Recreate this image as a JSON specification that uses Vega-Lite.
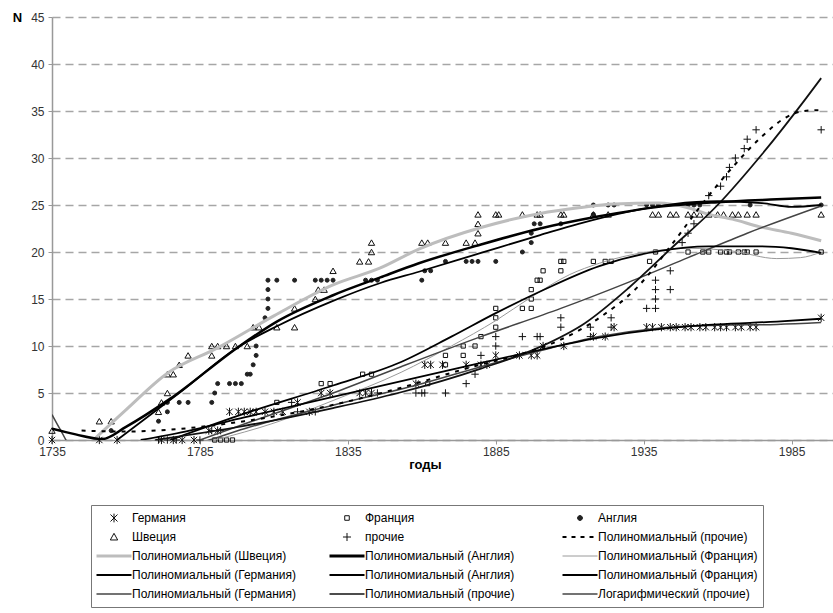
{
  "$schema": "https://vega.github.io/schema/vega-lite/v6.json",
  "width": 781,
  "height": 423,
  "autosize": {"type": "none"},
  "padding": {"left": 52, "top": 17, "right": 0, "bottom": 173},
  "background": "white",
  "config": {
    "view": {"stroke": null},
    "font": "Liberation Sans"
  },
  "datasets": {
    "pts": [
      {"series":"Германия","year":1735,"n":0},{"series":"Германия","year":1751,"n":0},{"series":"Германия","year":1757,"n":0},{"series":"Германия","year":1772,"n":0},{"series":"Германия","year":1776,"n":0},{"series":"Германия","year":1779,"n":0},{"series":"Германия","year":1783,"n":0},{"series":"Германия","year":1788,"n":1},{"series":"Германия","year":1791,"n":1},{"series":"Германия","year":1795,"n":3},{"series":"Германия","year":1798,"n":3},{"series":"Германия","year":1800,"n":3},{"series":"Германия","year":1802,"n":3},{"series":"Германия","year":1804,"n":3},{"series":"Германия","year":1807,"n":3},{"series":"Германия","year":1810,"n":3},{"series":"Германия","year":1813,"n":3},{"series":"Германия","year":1818,"n":4},{"series":"Германия","year":1822,"n":3},{"series":"Германия","year":1826,"n":5},{"series":"Германия","year":1829,"n":5},{"series":"Германия","year":1839,"n":5},{"series":"Германия","year":1841,"n":5},{"series":"Германия","year":1843,"n":5},{"series":"Германия","year":1858,"n":6},{"series":"Германия","year":1861,"n":8},{"series":"Германия","year":1863,"n":8},{"series":"Германия","year":1867,"n":8},{"series":"Германия","year":1875,"n":8},{"series":"Германия","year":1880,"n":8},{"series":"Германия","year":1882,"n":8},{"series":"Германия","year":1885,"n":9},{"series":"Германия","year":1893,"n":9},{"series":"Германия","year":1897,"n":9},{"series":"Германия","year":1899,"n":9},{"series":"Германия","year":1901,"n":10},{"series":"Германия","year":1908,"n":10},{"series":"Германия","year":1918,"n":11},{"series":"Германия","year":1922,"n":11},{"series":"Германия","year":1925,"n":12},{"series":"Германия","year":1936,"n":12},{"series":"Германия","year":1938,"n":12},{"series":"Германия","year":1941,"n":12},{"series":"Германия","year":1944,"n":12},{"series":"Германия","year":1946,"n":12},{"series":"Германия","year":1949,"n":12},{"series":"Германия","year":1951,"n":12},{"series":"Германия","year":1954,"n":12},{"series":"Германия","year":1956,"n":12},{"series":"Германия","year":1959,"n":12},{"series":"Германия","year":1961,"n":12},{"series":"Германия","year":1963,"n":12},{"series":"Германия","year":1966,"n":12},{"series":"Германия","year":1968,"n":12},{"series":"Германия","year":1971,"n":12},{"series":"Германия","year":1973,"n":12},{"series":"Германия","year":1995,"n":13},
      {"series":"Франция","year":1790,"n":0},{"series":"Франция","year":1792,"n":0},{"series":"Франция","year":1794,"n":0},{"series":"Франция","year":1796,"n":0},{"series":"Франция","year":1811,"n":4},{"series":"Франция","year":1826,"n":6},{"series":"Франция","year":1829,"n":6},{"series":"Франция","year":1840,"n":7},{"series":"Франция","year":1843,"n":7},{"series":"Франция","year":1862,"n":6},{"series":"Франция","year":1868,"n":8},{"series":"Франция","year":1868,"n":9},{"series":"Франция","year":1874,"n":9},{"series":"Франция","year":1874,"n":10},{"series":"Франция","year":1878,"n":10},{"series":"Франция","year":1880,"n":11},{"series":"Франция","year":1885,"n":12},{"series":"Франция","year":1885,"n":13},{"series":"Франция","year":1885,"n":14},{"series":"Франция","year":1894,"n":14},{"series":"Франция","year":1897,"n":14},{"series":"Франция","year":1897,"n":15},{"series":"Франция","year":1897,"n":16},{"series":"Франция","year":1899,"n":17},{"series":"Франция","year":1900,"n":17},{"series":"Франция","year":1901,"n":18},{"series":"Франция","year":1907,"n":18},{"series":"Франция","year":1907,"n":19},{"series":"Франция","year":1908,"n":19},{"series":"Франция","year":1918,"n":19},{"series":"Франция","year":1922,"n":19},{"series":"Франция","year":1924,"n":19},{"series":"Франция","year":1937,"n":19},{"series":"Франция","year":1939,"n":20},{"series":"Франция","year":1950,"n":20},{"series":"Франция","year":1955,"n":20},{"series":"Франция","year":1957,"n":20},{"series":"Франция","year":1961,"n":20},{"series":"Франция","year":1963,"n":20},{"series":"Франция","year":1964,"n":20},{"series":"Франция","year":1967,"n":20},{"series":"Франция","year":1969,"n":20},{"series":"Франция","year":1970,"n":20},{"series":"Франция","year":1973,"n":20},{"series":"Франция","year":1995,"n":20},
      {"series":"Англия","year":1755,"n":1},{"series":"Англия","year":1771,"n":2},{"series":"Англия","year":1774,"n":3},{"series":"Англия","year":1774,"n":4},{"series":"Англия","year":1778,"n":4},{"series":"Англия","year":1781,"n":4},{"series":"Англия","year":1789,"n":4},{"series":"Англия","year":1790,"n":5},{"series":"Англия","year":1791,"n":6},{"series":"Англия","year":1795,"n":6},{"series":"Англия","year":1797,"n":6},{"series":"Англия","year":1799,"n":6},{"series":"Англия","year":1801,"n":7},{"series":"Англия","year":1802,"n":7},{"series":"Англия","year":1803,"n":8},{"series":"Англия","year":1804,"n":9},{"series":"Англия","year":1804,"n":10},{"series":"Англия","year":1807,"n":13},{"series":"Англия","year":1808,"n":14},{"series":"Англия","year":1808,"n":15},{"series":"Англия","year":1808,"n":16},{"series":"Англия","year":1808,"n":17},{"series":"Англия","year":1811,"n":17},{"series":"Англия","year":1817,"n":17},{"series":"Англия","year":1824,"n":17},{"series":"Англия","year":1826,"n":17},{"series":"Англия","year":1828,"n":17},{"series":"Англия","year":1830,"n":17},{"series":"Англия","year":1841,"n":17},{"series":"Англия","year":1843,"n":17},{"series":"Англия","year":1845,"n":17},{"series":"Англия","year":1860,"n":17},{"series":"Англия","year":1861,"n":18},{"series":"Англия","year":1863,"n":18},{"series":"Англия","year":1868,"n":19},{"series":"Англия","year":1875,"n":19},{"series":"Англия","year":1877,"n":19},{"series":"Англия","year":1879,"n":19},{"series":"Англия","year":1885,"n":19},{"series":"Англия","year":1894,"n":20},{"series":"Англия","year":1897,"n":21},{"series":"Англия","year":1897,"n":22},{"series":"Англия","year":1898,"n":23},{"series":"Англия","year":1900,"n":23},{"series":"Англия","year":1907,"n":23},{"series":"Англия","year":1918,"n":24},{"series":"Англия","year":1918,"n":25},{"series":"Англия","year":1923,"n":25},{"series":"Англия","year":1925,"n":25},{"series":"Англия","year":1936,"n":25},{"series":"Англия","year":1938,"n":25},{"series":"Англия","year":1940,"n":25},{"series":"Англия","year":1950,"n":25},{"series":"Англия","year":1952,"n":25},{"series":"Англия","year":1954,"n":25},{"series":"Англия","year":1971,"n":25},{"series":"Англия","year":1995,"n":25},
      {"series":"Швеция","year":1735,"n":1},{"series":"Швеция","year":1751,"n":2},{"series":"Швеция","year":1755,"n":2},{"series":"Швеция","year":1771,"n":3},{"series":"Швеция","year":1772,"n":4},{"series":"Швеция","year":1774,"n":5},{"series":"Швеция","year":1774,"n":7},{"series":"Швеция","year":1776,"n":7},{"series":"Швеция","year":1778,"n":8},{"series":"Швеция","year":1781,"n":9},{"series":"Швеция","year":1789,"n":9},{"series":"Швеция","year":1789,"n":10},{"series":"Швеция","year":1791,"n":10},{"series":"Швеция","year":1794,"n":10},{"series":"Швеция","year":1797,"n":10},{"series":"Швеция","year":1801,"n":10},{"series":"Швеция","year":1803,"n":12},{"series":"Швеция","year":1805,"n":12},{"series":"Швеция","year":1811,"n":12},{"series":"Швеция","year":1817,"n":12},{"series":"Швеция","year":1817,"n":14},{"series":"Швеция","year":1824,"n":15},{"series":"Швеция","year":1825,"n":16},{"series":"Швеция","year":1827,"n":16},{"series":"Швеция","year":1830,"n":18},{"series":"Швеция","year":1839,"n":19},{"series":"Швеция","year":1842,"n":19},{"series":"Швеция","year":1843,"n":20},{"series":"Швеция","year":1843,"n":21},{"series":"Швеция","year":1860,"n":21},{"series":"Швеция","year":1862,"n":21},{"series":"Швеция","year":1868,"n":21},{"series":"Швеция","year":1875,"n":21},{"series":"Швеция","year":1878,"n":21},{"series":"Швеция","year":1879,"n":22},{"series":"Швеция","year":1879,"n":23},{"series":"Швеция","year":1879,"n":24},{"series":"Швеция","year":1885,"n":24},{"series":"Швеция","year":1886,"n":24},{"series":"Швеция","year":1894,"n":24},{"series":"Швеция","year":1899,"n":24},{"series":"Швеция","year":1900,"n":24},{"series":"Швеция","year":1907,"n":24},{"series":"Швеция","year":1908,"n":24},{"series":"Швеция","year":1918,"n":24},{"series":"Швеция","year":1923,"n":24},{"series":"Швеция","year":1938,"n":24},{"series":"Швеция","year":1940,"n":24},{"series":"Швеция","year":1944,"n":24},{"series":"Швеция","year":1946,"n":24},{"series":"Швеция","year":1950,"n":24},{"series":"Швеция","year":1952,"n":24},{"series":"Швеция","year":1954,"n":24},{"series":"Швеция","year":1957,"n":24},{"series":"Швеция","year":1960,"n":24},{"series":"Швеция","year":1962,"n":24},{"series":"Швеция","year":1965,"n":24},{"series":"Швеция","year":1967,"n":24},{"series":"Швеция","year":1970,"n":24},{"series":"Швеция","year":1973,"n":24},{"series":"Швеция","year":1995,"n":24},
      {"series":"прочие","year":1771,"n":0},{"series":"прочие","year":1774,"n":0},{"series":"прочие","year":1777,"n":0},{"series":"прочие","year":1785,"n":0},{"series":"прочие","year":1789,"n":1},{"series":"прочие","year":1792,"n":1},{"series":"прочие","year":1816,"n":4},{"series":"прочие","year":1818,"n":3},{"series":"прочие","year":1824,"n":3},{"series":"прочие","year":1845,"n":5},{"series":"прочие","year":1858,"n":5},{"series":"прочие","year":1860,"n":5},{"series":"прочие","year":1861,"n":5},{"series":"прочие","year":1868,"n":5},{"series":"прочие","year":1875,"n":6},{"series":"прочие","year":1878,"n":7},{"series":"прочие","year":1880,"n":9},{"series":"прочие","year":1885,"n":10},{"series":"прочие","year":1885,"n":11},{"series":"прочие","year":1894,"n":11},{"series":"прочие","year":1899,"n":11},{"series":"прочие","year":1900,"n":11},{"series":"прочие","year":1907,"n":12},{"series":"прочие","year":1907,"n":13},{"series":"прочие","year":1917,"n":11},{"series":"прочие","year":1917,"n":12},{"series":"прочие","year":1924,"n":12},{"series":"прочие","year":1924,"n":13},{"series":"прочие","year":1936,"n":14},{"series":"прочие","year":1939,"n":14},{"series":"прочие","year":1939,"n":15},{"series":"прочие","year":1939,"n":16},{"series":"прочие","year":1939,"n":17},{"series":"прочие","year":1944,"n":16},{"series":"прочие","year":1944,"n":18},{"series":"прочие","year":1948,"n":21},{"series":"прочие","year":1950,"n":22},{"series":"прочие","year":1952,"n":23},{"series":"прочие","year":1957,"n":26},{"series":"прочие","year":1961,"n":27},{"series":"прочие","year":1963,"n":28},{"series":"прочие","year":1964,"n":29},{"series":"прочие","year":1966,"n":30},{"series":"прочие","year":1969,"n":31},{"series":"прочие","year":1970,"n":32},{"series":"прочие","year":1973,"n":33},{"series":"прочие","year":1995,"n":33}
    ],
    "trend": [
      {"series":"Полиномиальный (прочие)#1","year":1745,"n":1.0},{"series":"Полиномиальный (прочие)#1","year":1760,"n":0.9},{"series":"Полиномиальный (прочие)#1","year":1775,"n":1.1},{"series":"Полиномиальный (прочие)#1","year":1800,"n":2.0},{"series":"Полиномиальный (прочие)#1","year":1825,"n":3.4},{"series":"Полиномиальный (прочие)#1","year":1850,"n":5.3},{"series":"Полиномиальный (прочие)#1","year":1875,"n":7.6},{"series":"Полиномиальный (прочие)#1","year":1895,"n":9.3},{"series":"Полиномиальный (прочие)#1","year":1905,"n":10.4},{"series":"Полиномиальный (прочие)#1","year":1920,"n":13.0},{"series":"Полиномиальный (прочие)#1","year":1933,"n":16.3},{"series":"Полиномиальный (прочие)#1","year":1945,"n":21.0},{"series":"Полиномиальный (прочие)#1","year":1955,"n":25.2},{"series":"Полиномиальный (прочие)#1","year":1965,"n":29.0},{"series":"Полиномиальный (прочие)#1","year":1975,"n":32.3},{"series":"Полиномиальный (прочие)#1","year":1983,"n":34.3},{"series":"Полиномиальный (прочие)#1","year":1989,"n":35.0},{"series":"Полиномиальный (прочие)#1","year":1995,"n":35.1},
      {"series":"Полиномиальный (Швеция)","year":1749,"n":0},{"series":"Полиномиальный (Швеция)","year":1760,"n":3.2},{"series":"Полиномиальный (Швеция)","year":1774,"n":7.1},{"series":"Полиномиальный (Швеция)","year":1791,"n":9.8},{"series":"Полиномиальный (Швеция)","year":1810,"n":13.2},{"series":"Полиномиальный (Швеция)","year":1830,"n":16.5},{"series":"Полиномиальный (Швеция)","year":1846,"n":18.3},{"series":"Полиномиальный (Швеция)","year":1859,"n":20.3},{"series":"Полиномиальный (Швеция)","year":1880,"n":22.6},{"series":"Полиномиальный (Швеция)","year":1900,"n":24.1},{"series":"Полиномиальный (Швеция)","year":1913,"n":24.7},{"series":"Полиномиальный (Швеция)","year":1925,"n":25.1},{"series":"Полиномиальный (Швеция)","year":1940,"n":25.2},{"series":"Полиномиальный (Швеция)","year":1950,"n":24.7},{"series":"Полиномиальный (Швеция)","year":1957,"n":24.0},{"series":"Полиномиальный (Швеция)","year":1965,"n":23.5},{"series":"Полиномиальный (Швеция)","year":1974,"n":22.7},{"series":"Полиномиальный (Швеция)","year":1985,"n":22.0},{"series":"Полиномиальный (Швеция)","year":1995,"n":21.2},
      {"series":"Полиномиальный (Англия)#1","year":1735,"n":1.2},{"series":"Полиномиальный (Англия)#1","year":1743,"n":0.6},{"series":"Полиномиальный (Англия)#1","year":1752,"n":0.1},{"series":"Полиномиальный (Англия)#1","year":1760,"n":1.4},{"series":"Полиномиальный (Англия)#1","year":1775,"n":4.4},{"series":"Полиномиальный (Англия)#1","year":1798,"n":9.9},{"series":"Полиномиальный (Англия)#1","year":1811,"n":12.6},{"series":"Полиномиальный (Англия)#1","year":1830,"n":15.4},{"series":"Полиномиальный (Англия)#1","year":1846,"n":17.3},{"series":"Полиномиальный (Англия)#1","year":1859,"n":18.8},{"series":"Полиномиальный (Англия)#1","year":1880,"n":20.8},{"series":"Полиномиальный (Англия)#1","year":1900,"n":22.5},{"series":"Полиномиальный (Англия)#1","year":1920,"n":23.8},{"series":"Полиномиальный (Англия)#1","year":1940,"n":24.8},{"series":"Полиномиальный (Англия)#1","year":1960,"n":25.3},{"series":"Полиномиальный (Англия)#1","year":1980,"n":25.6},{"series":"Полиномиальный (Англия)#1","year":1995,"n":25.8},
      {"series":"Полиномиальный (Франция)#1","year":1790,"n":0},{"series":"Полиномиальный (Франция)#1","year":1810,"n":1.8},{"series":"Полиномиальный (Франция)#1","year":1830,"n":4.2},{"series":"Полиномиальный (Франция)#1","year":1853,"n":7.2},{"series":"Полиномиальный (Франция)#1","year":1870,"n":10.0},{"series":"Полиномиальный (Франция)#1","year":1885,"n":12.7},{"series":"Полиномиальный (Франция)#1","year":1897,"n":15.2},{"series":"Полиномиальный (Франция)#1","year":1910,"n":17.6},{"series":"Полиномиальный (Франция)#1","year":1920,"n":18.8},{"series":"Полиномиальный (Франция)#1","year":1936,"n":20.0},{"series":"Полиномиальный (Франция)#1","year":1950,"n":20.4},{"series":"Полиномиальный (Франция)#1","year":1965,"n":20.1},{"series":"Полиномиальный (Франция)#1","year":1980,"n":19.3},{"series":"Полиномиальный (Франция)#1","year":1988,"n":19.4},{"series":"Полиномиальный (Франция)#1","year":1995,"n":20.0},
      {"series":"Полиномиальный (Германия)#1","year":1765,"n":0},{"series":"Полиномиальный (Германия)#1","year":1780,"n":0.9},{"series":"Полиномиальный (Германия)#1","year":1800,"n":2.4},{"series":"Полиномиальный (Германия)#1","year":1830,"n":4.6},{"series":"Полиномиальный (Германия)#1","year":1859,"n":6.7},{"series":"Полиномиальный (Германия)#1","year":1880,"n":8.2},{"series":"Полиномиальный (Германия)#1","year":1900,"n":9.6},{"series":"Полиномиальный (Германия)#1","year":1920,"n":10.9},{"series":"Полиномиальный (Германия)#1","year":1940,"n":11.8},{"series":"Полиномиальный (Германия)#1","year":1960,"n":12.3},{"series":"Полиномиальный (Германия)#1","year":1980,"n":12.6},{"series":"Полиномиальный (Германия)#1","year":1995,"n":12.9},
      {"series":"Полиномиальный (Англия)#2","year":1757,"n":0},{"series":"Полиномиальный (Англия)#2","year":1778,"n":5.0},{"series":"Полиномиальный (Англия)#2","year":1798,"n":9.9},{"series":"Полиномиальный (Англия)#2","year":1811,"n":12.1},{"series":"Полиномиальный (Англия)#2","year":1830,"n":14.8},{"series":"Полиномиальный (Англия)#2","year":1846,"n":16.7},{"series":"Полиномиальный (Англия)#2","year":1859,"n":17.9},{"series":"Полиномиальный (Англия)#2","year":1880,"n":19.9},{"series":"Полиномиальный (Англия)#2","year":1900,"n":21.8},{"series":"Полиномиальный (Англия)#2","year":1913,"n":23.0},{"series":"Полиномиальный (Англия)#2","year":1930,"n":24.3},{"series":"Полиномиальный (Англия)#2","year":1945,"n":25.1},{"series":"Полиномиальный (Англия)#2","year":1960,"n":25.4},{"series":"Полиномиальный (Англия)#2","year":1975,"n":25.2},{"series":"Полиномиальный (Англия)#2","year":1985,"n":24.8},{"series":"Полиномиальный (Англия)#2","year":1995,"n":25.0},
      {"series":"Полиномиальный (Франция)#2","year":1775,"n":0},{"series":"Полиномиальный (Франция)#2","year":1800,"n":2.8},{"series":"Полиномиальный (Франция)#2","year":1830,"n":5.8},{"series":"Полиномиальный (Франция)#2","year":1853,"n":8.3},{"series":"Полиномиальный (Франция)#2","year":1870,"n":11.0},{"series":"Полиномиальный (Франция)#2","year":1885,"n":13.5},{"series":"Полиномиальный (Франция)#2","year":1900,"n":15.8},{"series":"Полиномиальный (Франция)#2","year":1920,"n":18.5},{"series":"Полиномиальный (Франция)#2","year":1940,"n":20.1},{"series":"Полиномиальный (Франция)#2","year":1957,"n":20.6},{"series":"Полиномиальный (Франция)#2","year":1975,"n":20.6},{"series":"Полиномиальный (Франция)#2","year":1985,"n":20.4},{"series":"Полиномиальный (Франция)#2","year":1995,"n":19.9},
      {"series":"Полиномиальный (Германия)#2","year":1735,"n":2.7},{"series":"Полиномиальный (Германия)#2","year":1738,"n":1.0},{"series":"Полиномиальный (Германия)#2","year":1741,"n":-0.5},{"series":"Полиномиальный (Германия)#2","year":1760,"n":-2.0},{"series":"Полиномиальный (Германия)#2","year":1785,"n":-0.3},{"series":"Полиномиальный (Германия)#2","year":1800,"n":1.2},{"series":"Полиномиальный (Германия)#2","year":1830,"n":3.7},{"series":"Полиномиальный (Германия)#2","year":1859,"n":5.9},{"series":"Полиномиальный (Германия)#2","year":1880,"n":7.8},{"series":"Полиномиальный (Германия)#2","year":1900,"n":9.5},{"series":"Полиномиальный (Германия)#2","year":1920,"n":11.0},{"series":"Полиномиальный (Германия)#2","year":1940,"n":11.9},{"series":"Полиномиальный (Германия)#2","year":1960,"n":12.2},{"series":"Полиномиальный (Германия)#2","year":1980,"n":12.3},{"series":"Полиномиальный (Германия)#2","year":1995,"n":12.5},
      {"series":"Полиномиальный (прочие)#2","year":1770,"n":0},{"series":"Полиномиальный (прочие)#2","year":1800,"n":1.5},{"series":"Полиномиальный (прочие)#2","year":1830,"n":3.4},{"series":"Полиномиальный (прочие)#2","year":1852,"n":5.0},{"series":"Полиномиальный (прочие)#2","year":1880,"n":7.6},{"series":"Полиномиальный (прочие)#2","year":1900,"n":9.9},{"series":"Полиномиальный (прочие)#2","year":1915,"n":12.4},{"series":"Полиномиальный (прочие)#2","year":1930,"n":16.2},{"series":"Полиномиальный (прочие)#2","year":1944,"n":20.3},{"series":"Полиномиальный (прочие)#2","year":1960,"n":25.0},{"series":"Полиномиальный (прочие)#2","year":1975,"n":30.4},{"series":"Полиномиальный (прочие)#2","year":1990,"n":36.4},{"series":"Полиномиальный (прочие)#2","year":1995,"n":38.5},
      {"series":"Логарифмический (прочие)","year":1785,"n":0},{"series":"Логарифмический (прочие)","year":1800,"n":1.7},{"series":"Логарифмический (прочие)","year":1830,"n":5.0},{"series":"Логарифмический (прочие)","year":1853,"n":7.8},{"series":"Логарифмический (прочие)","year":1880,"n":11.0},{"series":"Логарифмический (прочие)","year":1907,"n":14.0},{"series":"Логарифмический (прочие)","year":1930,"n":16.8},{"series":"Логарифмический (прочие)","year":1950,"n":19.4},{"series":"Логарифмический (прочие)","year":1970,"n":22.0},{"series":"Логарифмический (прочие)","year":1995,"n":24.9}
    ]
  },
  "encoding": {
    "x": {
      "field": "year", "type": "quantitative",
      "scale": {"domain": [1735, 1999], "nice": false, "zero": false},
      "axis": {
        "values": [1735, 1785, 1835, 1885, 1935, 1985], "format": "d",
        "title": "годы", "grid": false, "tickSize": 4, "labelFontSize": 12, "labelColor": "#333",
        "domainColor": "#999", "domainWidth": 1.5, "tickColor": "#999", "labelPadding": 2, "labelFlush": false, "labelOverlap": false,
        "titleFontWeight": "bold", "titleFontSize": 13, "titleColor": "#000",
        "titleX": 373, "titleY": 24, "titleBaseline": "middle", "titleAlign": "center"
      }
    },
    "y": {
      "field": "n", "type": "quantitative",
      "scale": {"domain": [0, 45], "nice": false},
      "axis": {
        "values": [0, 5, 10, 15, 20, 25, 30, 35, 40, 45],
        "title": "N", "titleAngle": 0, "titleX": -35, "titleY": 0, "titleBaseline": "middle", "titleAlign": "center",
        "titleFontWeight": "bold", "titleFontSize": 13, "titleColor": "#000",
        "grid": true, "gridDash": [8, 5], "gridColor": "#a6a6a6", "gridWidth": 1.5,
        "tickSize": 4, "tickColor": "#999", "domainColor": "#999", "domainWidth": 1.5,
        "labelFontSize": 12, "labelColor": "#333", "labelPadding": 4
      }
    },
    "color": {
      "field": "series", "type": "nominal",
      "scale": {
        "domain": ["Германия", "Франция", "Англия", "Швеция", "прочие", "Полиномиальный (прочие)#1", "Полиномиальный (Швеция)", "Полиномиальный (Англия)#1", "Полиномиальный (Франция)#1", "Полиномиальный (Германия)#1", "Полиномиальный (Англия)#2", "Полиномиальный (Франция)#2", "Полиномиальный (Германия)#2", "Полиномиальный (прочие)#2", "Логарифмический (прочие)"],
        "range": ["#111111", "#111111", "#222222", "#111111", "#111111", "#000000", "#bdbdbd", "#000000", "#9a9a9a", "#000000", "#000000", "#000000", "#444444", "#111111", "#444444"]
      },
      "legend": {
        "title": null, "orient": "none", "legendX": 39, "legendY": 488, "columns": 3, "direction": "horizontal",
        "symbolSize": 1225, "clipHeight": 16, "rowPadding": 3, "columnPadding": 33, "gridAlign": "all",
        "labelFontSize": 12, "labelFont": "Liberation Sans", "labelColor": "#000", "labelLimit": 300, "labelOffset": 0,
        "padding": 5, "strokeColor": "#777", "fillColor": "white",
        "labelExpr": "split(datum.label, '#')[0]",
        "encode": {
          "symbols": {
            "update": {
              "shape": {"signal": "(datum.value == 'Германия' ? 'M-0.2,-0.2L0.2,0.2M-0.2,0.2L0.2,-0.2M0,-0.25L0,0.25' : datum.value == 'Франция' ? 'M-0.13,-0.13H0.13V0.13H-0.13Z' : datum.value == 'Англия' ? 'M-0.14,0A0.14,0.14,0,1,1,0.14,0A0.14,0.14,0,1,1,-0.14,0Z' : datum.value == 'Швеция' ? 'M0,-0.21L0.21,0.17L-0.21,0.17Z' : datum.value == 'прочие' ? 'M-0.23,0L0.23,0M0,-0.23L0,0.23' : 'stroke')"},
              "fill": {"signal": "(datum.value == 'Англия' ? '#222222' : 'transparent')"},
              "strokeWidth": {"signal": "(datum.value == 'Полиномиальный (Швеция)' || datum.value == 'Полиномиальный (Англия)#1' ? 3 : datum.value == 'Полиномиальный (прочие)#1' ? 2 : datum.value == 'Полиномиальный (Германия)#1' || datum.value == 'Полиномиальный (Англия)#2' || datum.value == 'Полиномиальный (Франция)#2' ? 1.8 : datum.value == 'Полиномиальный (Германия)#2' || datum.value == 'Полиномиальный (прочие)#2' || datum.value == 'Логарифмический (прочие)' ? 1.5 : 1)"},
              "strokeDash": {"signal": "(datum.value == 'Полиномиальный (прочие)#1' ? [4, 5] : [])"},
              "opacity": {"value": 1}
            }
          }
        }
      }
    }
  },
  "layer": [
    {
      "data": {"name": "pts"},
      "transform": [{"filter": {"field": "series", "equal": "Германия"}}],
      "mark": {"type": "point", "shape": "M-1,-1L1,1M-1,1L1,-1M0,-1.3L0,1.3", "filled": false, "size": 40, "strokeWidth": 1, "opacity": 1}
    },
    {
      "data": {"name": "pts"},
      "transform": [{"filter": {"field": "series", "equal": "Франция"}}],
      "mark": {"type": "point", "shape": "square", "filled": false, "size": 18, "strokeWidth": 1, "opacity": 1}
    },
    {
      "data": {"name": "pts"},
      "transform": [{"filter": {"field": "series", "equal": "Англия"}}],
      "mark": {"type": "point", "shape": "circle", "filled": false, "fill": "#222222", "size": 16, "strokeWidth": 1, "opacity": 1}
    },
    {
      "data": {"name": "pts"},
      "transform": [{"filter": {"field": "series", "equal": "Швеция"}}],
      "mark": {"type": "point", "shape": "triangle-up", "filled": false, "size": 40, "strokeWidth": 1, "opacity": 1}
    },
    {
      "data": {"name": "pts"},
      "transform": [{"filter": {"field": "series", "equal": "прочие"}}],
      "mark": {"type": "point", "shape": "M-1,0L1,0M0,-1L0,1", "filled": false, "size": 55, "strokeWidth": 1, "opacity": 1}
    },
    {
      "data": {"name": "trend"},
      "transform": [{"filter": {"field": "series", "oneOf": ["Полиномиальный (Швеция)"]}}],
      "mark": {"type": "line", "strokeWidth": 3, "interpolate": "monotone", "clip": true}
    },
    {
      "data": {"name": "trend"},
      "transform": [{"filter": {"field": "series", "oneOf": ["Полиномиальный (Франция)#1"]}}],
      "mark": {"type": "line", "strokeWidth": 1, "interpolate": "monotone", "clip": true}
    },
    {
      "data": {"name": "trend"},
      "transform": [{"filter": {"field": "series", "oneOf": ["Полиномиальный (Германия)#2", "Логарифмический (прочие)"]}}],
      "mark": {"type": "line", "strokeWidth": 1.5, "interpolate": "monotone", "clip": true}
    },
    {
      "data": {"name": "trend"},
      "transform": [{"filter": {"field": "series", "oneOf": ["Полиномиальный (Германия)#1", "Полиномиальный (Англия)#2", "Полиномиальный (Франция)#2", "Полиномиальный (прочие)#2"]}}],
      "mark": {"type": "line", "strokeWidth": 1.8, "interpolate": "monotone", "clip": true}
    },
    {
      "data": {"name": "trend"},
      "transform": [{"filter": {"field": "series", "oneOf": ["Полиномиальный (Англия)#1"]}}],
      "mark": {"type": "line", "strokeWidth": 2.5, "interpolate": "monotone", "clip": true}
    },
    {
      "data": {"name": "trend"},
      "transform": [{"filter": {"field": "series", "oneOf": ["Полиномиальный (прочие)#1"]}}],
      "mark": {"type": "line", "strokeWidth": 2, "strokeDash": [4, 6], "interpolate": "monotone", "clip": true}
    }
  ]
}
